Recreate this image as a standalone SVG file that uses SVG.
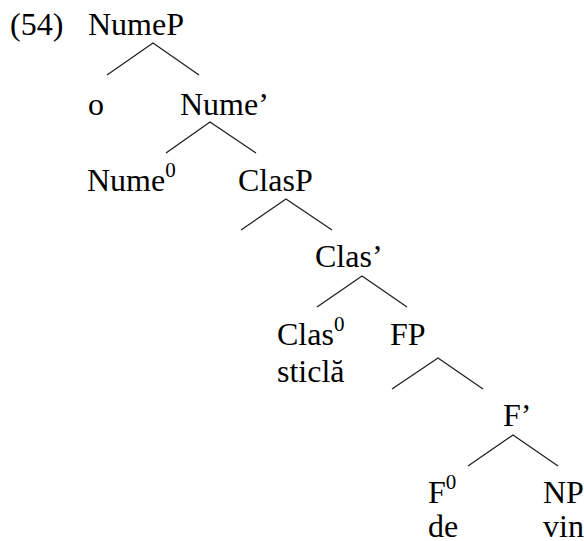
<svg xmlns="http://www.w3.org/2000/svg" width="584" height="541" viewBox="0 0 584 541">
<rect width="584" height="541" fill="#fff"/>
<text id="label" x="10" y="35" font-family="Times New Roman" font-size="32">(54)</text>
<g id="NumeP"><text x="88" y="35" font-family="Times New Roman" font-size="32">NumeP</text></g>
<g id="o"><text x="88" y="115" font-family="Times New Roman" font-size="32">o</text></g>
<g id="NumeBar"><text x="180" y="115" font-family="Times New Roman" font-size="32">Nume&#8217;</text></g>
<g id="Nume0"><text x="87" y="191" font-family="Times New Roman" font-size="32">Nume<tspan font-size="21" dy="-14">0</tspan></text></g>
<g id="ClasP"><text x="238" y="191" font-family="Times New Roman" font-size="32">ClasP</text></g>
<g id="ClasBar"><text x="315" y="267" font-family="Times New Roman" font-size="32">Clas&#8217;</text></g>
<g id="Clas0"><text x="277" y="345" font-family="Times New Roman" font-size="32">Clas<tspan font-size="21" dy="-14">0</tspan></text><text x="277" y="382" font-family="Times New Roman" font-size="32">sticl&#259;</text></g>
<g id="FP"><text x="390" y="345" font-family="Times New Roman" font-size="32">FP</text></g>
<g id="FBar"><text x="503" y="426" font-family="Times New Roman" font-size="32">F&#8217;</text></g>
<g id="F0"><text x="428" y="503" font-family="Times New Roman" font-size="32">F<tspan font-size="21" dy="-14">0</tspan></text><text x="428" y="537" font-family="Times New Roman" font-size="32">de</text></g>
<g id="NP"><text x="543" y="503" font-family="Times New Roman" font-size="32">NP</text><text x="543" y="537" font-family="Times New Roman" font-size="32">vin</text></g>
<g id="connectors" stroke="#231f20" stroke-width="1.3" fill="none">
<path d="M107,75 L153,43 L199,75"/>
<path d="M166,153 L210,122 L256,153"/>
<path d="M241,230 L286,199 L332,230"/>
<path d="M317,307 L362,276 L407,307"/>
<path d="M392,389 L438,358 L483,389"/>
<path d="M468,466 L513,435 L558,466"/>
</g>
</svg>
